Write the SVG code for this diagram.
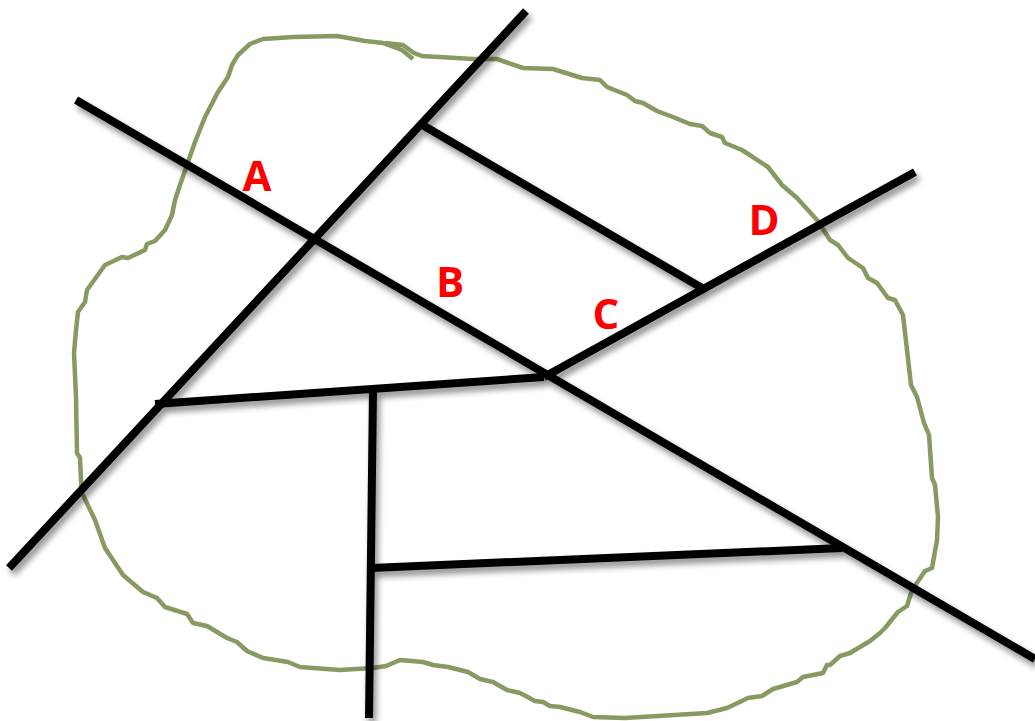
<svg xmlns="http://www.w3.org/2000/svg" width="1035" height="721" viewBox="0 0 1035 721">
<style>
.road{fill:none;stroke:#000;stroke-width:8}
.outline{fill:none;stroke:#879a62;stroke-width:4.5;stroke-linejoin:round;stroke-linecap:butt}
.label{font-family:"Open Sans","Liberation Sans",sans-serif;font-weight:700;font-size:42px;fill:#ff0000;text-anchor:middle}
</style>
<defs>
<filter id="shadow" x="-5%" y="-5%" width="110%" height="110%">
<feGaussianBlur in="SourceAlpha" stdDeviation="3"/>
<feOffset dx="3" dy="5"/>
<feComponentTransfer><feFuncA type="linear" slope="0.45"/></feComponentTransfer>
<feMerge><feMergeNode/><feMergeNode in="SourceGraphic"/></feMerge>
</filter>
</defs>
<rect width="1035" height="721" fill="#fff"/>
<g id="boundary">
<path class="outline" d="M413 59 L402 50 L383 43 L365 41 L337 36 L293 37 L263 39 L250 44 L238 55 L232 65 L228 77 L218 92 L205 117 L195 142 L188 162 L180 185 L175 200 L172 215 L165 230 L155 241 L147 244 L145 250 L128 258 L122 257 L105 265 L87 290 L85 302 L78 312 L76 330 L74 353 L76 397 L77 453 L80 458 L81 480 L82 493 L95 520 L105 548 L123 575 L143 592 L157 598 L165 607 L187 614 L193 623 L207 626 L227 638 L237 642 L247 651 L263 658 L288 662 L300 667 L340 670 L373 668 L386 666 L400 660 L423 662 L433 665 L448 667 L468 672 L480 679 L493 682 L507 690 L520 693 L535 701 L543 702 L550 706 L560 707 L580 712 L593 717 L625 718 L707 713 L727 708 L748 698 L762 696 L773 689 L797 682 L803 677 L823 673 L827 665 L830 665 L840 656 L850 653 L870 641 L880 633 L885 628 L898 612 L907 606 L912 590 L925 571 L932 568 L937 540 L938 517 L935 485 L932 478 L929 435 L924 423 L917 397 L911 385 L907 350 L903 315 L895 300 L888 298 L877 283 L868 278 L863 268 L848 258 L838 245 L830 240 L817 220 L797 198 L782 185 L768 167 L742 150 L725 143 L722 137 L710 133 L702 126 L690 124 L673 117 L657 111 L643 103 L635 101 L627 95 L607 87 L600 80 L582 78 L553 69 L523 68 L497 59 L473 59 L422 56 L414 53 L403 45 L385 43"/>
</g>
<g id="connectors" filter="url(#shadow)">
<line class="road" x1="76" y1="100" x2="1035" y2="659"/>
<line class="road" x1="526" y1="11" x2="9" y2="568"/>
<line class="road" x1="419" y1="123" x2="702" y2="288"/>
<line class="road" x1="915" y1="172" x2="544" y2="377"/>
<line class="road" x1="155" y1="404" x2="544" y2="377"/>
<line class="road" x1="373" y1="390" x2="369" y2="718"/>
<line class="road" x1="371" y1="568" x2="842" y2="548"/>
</g>
<g id="label-a"><text class="label" x="257" y="191">A</text></g>
<g id="label-b"><text class="label" x="450" y="297">B</text></g>
<g id="label-c"><text class="label" x="606" y="329">C</text></g>
<g id="label-d"><text class="label" x="764" y="235">D</text></g>
</svg>
